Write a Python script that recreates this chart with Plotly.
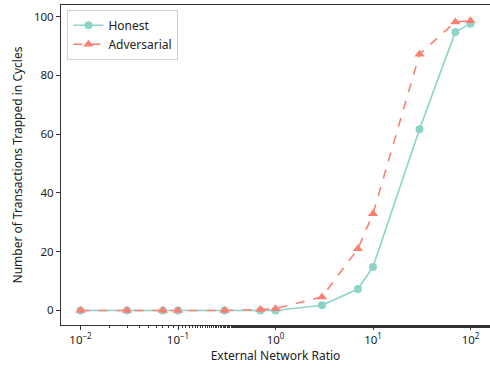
import plotly.graph_objects as go

# External network ratio sweep
ratios = [0.01, 0.03, 0.07, 0.1, 0.3, 0.7, 1, 3, 7, 10, 30, 70, 100]
honest = [0, 0, 0, 0, 0, 0, 0, 1.8, 7.3, 14.8, 61.7, 94.8, 97.6]
adversarial = [0, 0, 0, 0, 0, 0.3, 0.6, 4.6, 21.0, 32.9, 87.2, 98.2, 98.6]

x_tickvals = [0.01, 0.1, 1, 10, 100]
x_ticktext = ["10<sup>\u22122</sup>", "10<sup>\u22121</sup>", "10<sup>0</sup>",
              "10<sup>1</sup>", "10<sup>2</sup>"]
y_tickvals = [0, 20, 40, 60, 80, 100]

teal = "#8dd3c7"
salmon = "#fb8072"

fig = go.Figure()
fig.add_trace(go.Scatter(
    x=ratios, y=honest, name="Honest", mode="lines+markers",
    line=dict(color=teal, width=1.6),
    marker=dict(symbol="circle", size=8, color=teal),
))
fig.add_trace(go.Scatter(
    x=ratios, y=adversarial, name="Adversarial", mode="lines+markers",
    line=dict(color=salmon, width=1.6, dash="dash"),
    marker=dict(symbol="triangle-up", size=9, color=salmon),
))

axis_font = dict(family="Noto Sans, Open Sans, sans-serif", size=11.5, color="#222")

fig.update_layout(
    width=490, height=368,
    margin=dict(l=61, r=0, t=5, b=43),
    plot_bgcolor="white", paper_bgcolor="white",
    font=axis_font,
    showlegend=True,
    legend=dict(
        x=0.015, y=0.985, xanchor="left", yanchor="top",
        bgcolor="rgba(255,255,255,0.8)", bordercolor="#d0d0d0", borderwidth=1,
        font=dict(family="Noto Sans, sans-serif", size=12, color="#222"),
        itemwidth=30, tracegroupgap=0,
    ),
    xaxis=dict(
        type="log", range=[-2.2, 2.2],
        tickvals=x_tickvals, ticktext=x_ticktext,
        ticks="outside", ticklen=4, tickcolor="#333",
        minor=dict(ticks="outside", ticklen=2, tickcolor="#333", showgrid=False),
        showline=True, linecolor="#333", linewidth=1, mirror=True,
        showgrid=False, zeroline=False,
        title=dict(text="External Network Ratio", standoff=5,
                   font=dict(size=12, color="#222")),
    ),
    yaxis=dict(
        range=[-4.95, 103.95],
        tickvals=y_tickvals,
        ticks="outside", ticklen=4, tickcolor="#333",
        showline=True, linecolor="#333", linewidth=1,
        showgrid=False, zeroline=False,
        title=dict(text="Number of Transactions Trapped in Cycles", standoff=8,
                   font=dict(size=12, color="#222")),
    ),
)

fig.write_html("out.html")
